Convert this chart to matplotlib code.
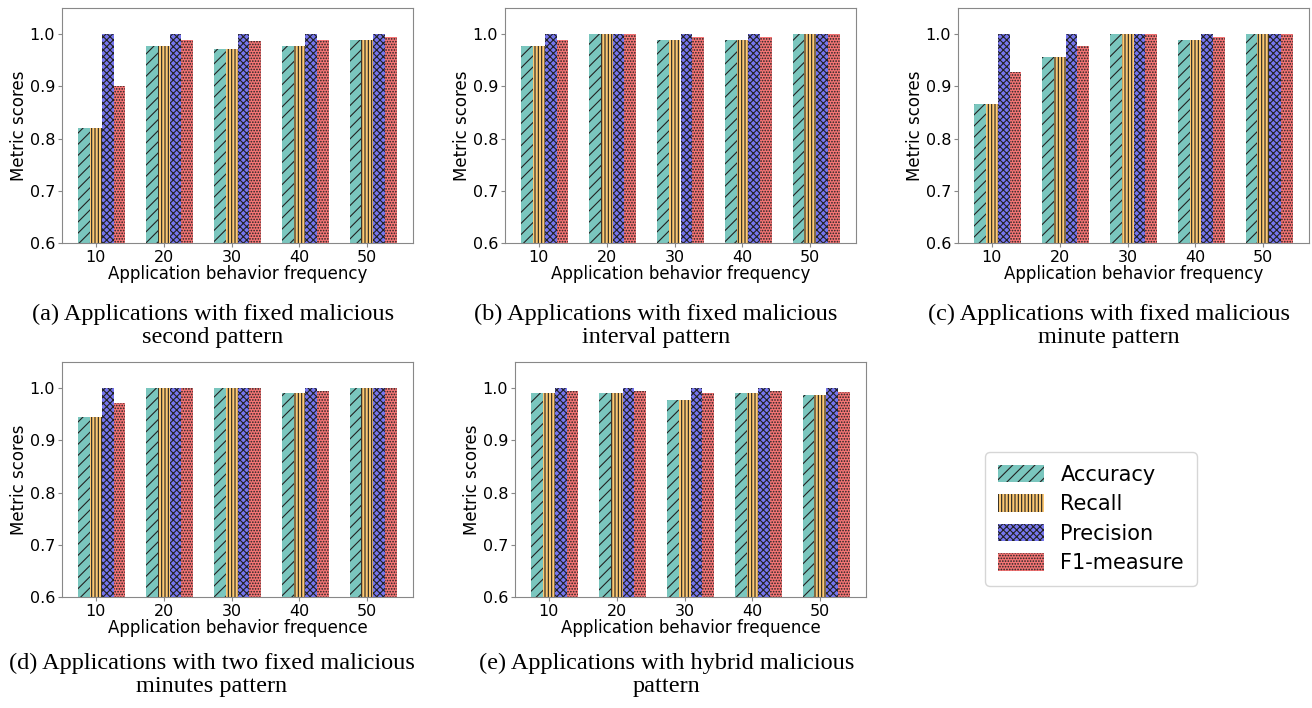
import matplotlib
matplotlib.use("Agg")
import matplotlib.pyplot as plt
import numpy as np

# x categories shared by all panels
frequencies = [10, 20, 30, 40, 50]
metric_names = ["Accuracy", "Recall", "Precision", "F1-measure"]

# (a) fixed malicious second pattern
a_accuracy = [0.821, 0.978, 0.971, 0.978, 0.989]
a_recall = [0.821, 0.978, 0.971, 0.978, 0.989]
a_precision = [1.0, 1.0, 1.0, 1.0, 1.0]
a_f1 = [0.901, 0.989, 0.986, 0.989, 0.995]

# (b) fixed malicious interval pattern
b_accuracy = [0.978, 1.0, 0.989, 0.989, 1.0]
b_recall = [0.978, 1.0, 0.989, 0.989, 1.0]
b_precision = [1.0, 1.0, 1.0, 1.0, 1.0]
b_f1 = [0.989, 1.0, 0.995, 0.995, 1.0]

# (c) fixed malicious minute pattern
c_accuracy = [0.866, 0.956, 1.0, 0.989, 1.0]
c_recall = [0.866, 0.956, 1.0, 0.989, 1.0]
c_precision = [1.0, 1.0, 1.0, 1.0, 1.0]
c_f1 = [0.928, 0.977, 1.0, 0.995, 1.0]

# (d) two fixed malicious minutes pattern
d_accuracy = [0.945, 1.0, 1.0, 0.990, 1.0]
d_recall = [0.945, 1.0, 1.0, 0.990, 1.0]
d_precision = [1.0, 1.0, 1.0, 1.0, 1.0]
d_f1 = [0.972, 1.0, 1.0, 0.995, 1.0]

# (e) hybrid malicious pattern
e_accuracy = [0.990, 0.990, 0.978, 0.990, 0.986]
e_recall = [0.990, 0.990, 0.978, 0.990, 0.986]
e_precision = [1.0, 1.0, 1.0, 1.0, 1.0]
e_f1 = [0.995, 0.995, 0.990, 0.995, 0.992]

captions = [
    "(a) Applications with fixed malicious\nsecond pattern",
    "(b) Applications with fixed malicious\ninterval pattern",
    "(c) Applications with fixed malicious\nminute pattern",
    "(d) Applications with two fixed malicious\nminutes pattern",
    "(e) Applications with hybrid malicious\npattern",
]
xlabels = ["Application behavior frequency"] * 3 + ["Application behavior frequence"] * 2

panels = [
    (a_accuracy, a_recall, a_precision, a_f1),
    (b_accuracy, b_recall, b_precision, b_f1),
    (c_accuracy, c_recall, c_precision, c_f1),
    (d_accuracy, d_recall, d_precision, d_f1),
    (e_accuracy, e_recall, e_precision, e_f1),
]

colors = ["#7ac6be", "#fcc872", "#7676f0", "#f57575"]
hatches = ["///", "|||||", "xxxxx", "......"]

# axes rectangles in pixels: left, top, right, bottom
W, H = 1312, 708
rects_px = [
    (62, 8, 413, 243),
    (505, 8, 856, 243),
    (958, 8, 1309, 243),
    (62, 362, 413, 597),
    (515, 362, 866, 597),
]
caption_pos = [(213, 326), (656, 326), (1109, 326), (212, 675), (667, 675)]

plt.rcParams["hatch.linewidth"] = 0.8

fig = plt.figure(figsize=(W / 100, H / 100), dpi=100)

width = 0.175
x = np.arange(len(frequencies))
handles = []
for i, (vals, rect) in enumerate(zip(panels, rects_px)):
    l, t, r, b = rect
    ax = fig.add_axes([l / W, 1 - b / H, (r - l) / W, (b - t) / H])
    bars = []
    for j, v in enumerate(vals):
        bc = ax.bar(x + (j - 1) * width, v, width, color=colors[j],
                    hatch=hatches[j], edgecolor="#222222", linewidth=0,
                    label=metric_names[j])
        bars.append(bc)
    if i == 0:
        handles = bars
    ax.set_ylim(0.6, 1.05)
    ax.set_yticks([0.6, 0.7, 0.8, 0.9, 1.0])
    ax.set_xticks(x)
    ax.set_xticklabels([str(f) for f in frequencies])
    ax.tick_params(labelsize=11.5, color="#888888", length=3, pad=2)
    ax.set_ylabel("Metric scores", fontsize=12, labelpad=1)
    ax.set_xlabel(xlabels[i], fontsize=12, labelpad=0)
    for s in ax.spines.values():
        s.set_color("#888888")
    cx, cy = caption_pos[i]
    fig.text(cx / W, 1 - cy / H, captions[i], ha="center", va="center",
             family="Liberation Serif", fontsize=17.5, linespacing=1.15)

fig.legend(handles, metric_names, loc="center",
           bbox_to_anchor=(1091 / W, 1 - 519 / H), fontsize=15,
           handlelength=2.2, handleheight=0.9, borderpad=0.6,
           labelspacing=0.45)

fig.savefig("out.png", dpi=100)
